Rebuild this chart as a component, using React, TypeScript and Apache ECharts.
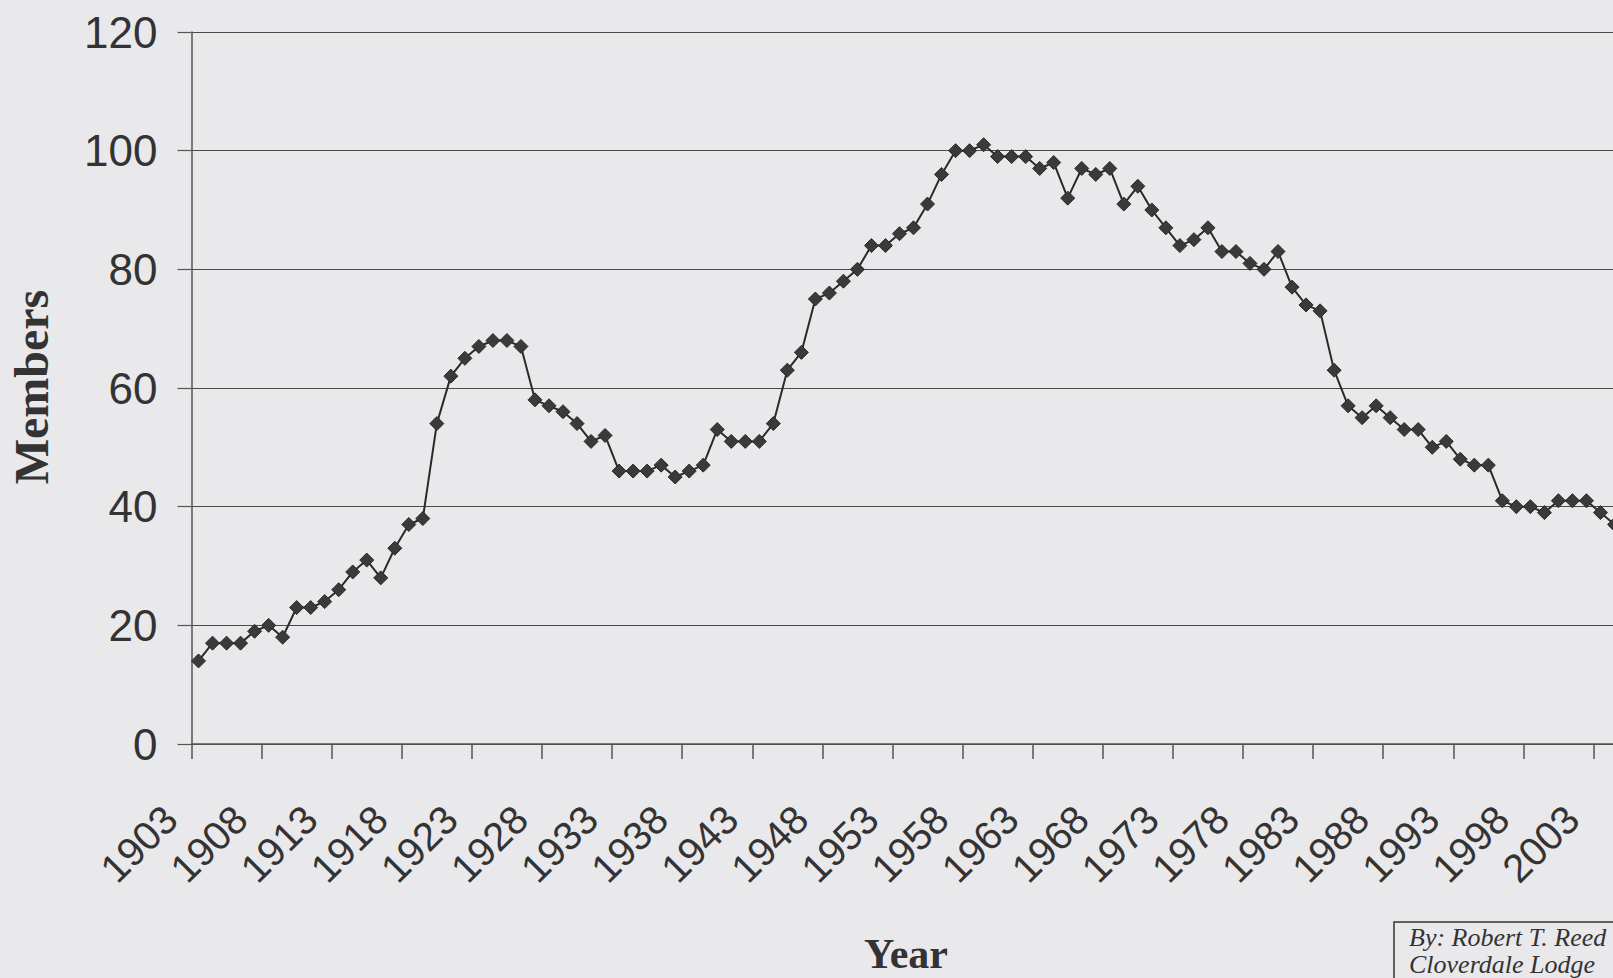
import React, { useEffect, useRef } from "react";
import * as echarts from "echarts";

const years: string[] = [
  "1903", "1904", "1905", "1906", "1907", "1908", "1909", "1910", "1911", "1912",
  "1913", "1914", "1915", "1916", "1917", "1918", "1919", "1920", "1921", "1922",
  "1923", "1924", "1925", "1926", "1927", "1928", "1929", "1930", "1931", "1932",
  "1933", "1934", "1935", "1936", "1937", "1938", "1939", "1940", "1941", "1942",
  "1943", "1944", "1945", "1946", "1947", "1948", "1949", "1950", "1951", "1952",
  "1953", "1954", "1955", "1956", "1957", "1958", "1959", "1960", "1961", "1962",
  "1963", "1964", "1965", "1966", "1967", "1968", "1969", "1970", "1971", "1972",
  "1973", "1974", "1975", "1976", "1977", "1978", "1979", "1980", "1981", "1982",
  "1983", "1984", "1985", "1986", "1987", "1988", "1989", "1990", "1991", "1992",
  "1993", "1994", "1995", "1996", "1997", "1998", "1999", "2000", "2001", "2002",
  "2003", "2004",
];

const members: number[] = [
  14, 17, 17, 17, 19, 20, 18, 23, 23, 24,
  26, 29, 31, 28, 33, 37, 38, 54, 62, 65,
  67, 68, 68, 67, 58, 57, 56, 54, 51, 52,
  46, 46, 46, 47, 45, 46, 47, 53, 51, 51,
  51, 54, 63, 66, 75, 76, 78, 80, 84, 84,
  86, 87, 91, 96, 100, 100, 101, 99, 99, 99,
  97, 98, 92, 97, 96, 97, 91, 94, 90, 87,
  84, 85, 87, 83, 83, 81, 80, 83, 77, 74,
  73, 63, 57, 55, 57, 55, 53, 53, 50, 51,
  48, 47, 47, 41, 40, 40, 39, 41, 41, 41,
  39, 37,
];

const yTicks = { min: 0, max: 120, interval: 20 };

const xTitle = "Year";
const yTitle = "Members";
const creditLines = ["By: Robert T. Reed", "Cloverdale Lodge"];

export default function App() {
  const ref = useRef<HTMLDivElement>(null);

  useEffect(() => {
    if (!ref.current) return;
    const chart = echarts.init(ref.current, undefined, { renderer: "svg" });
    const ink = "#333333";
    chart.setOption({
      animation: false,
      backgroundColor: "#e9e8eb",
      grid: {
        left: 191.5,
        top: 32,
        width: 1430,
        height: 712,
        containLabel: false,
        outerBoundsMode: "none",
      },
      xAxis: {
        type: "category",
        data: years,
        boundaryGap: true,
        axisLine: { show: true, lineStyle: { color: "#555", width: 1.5 } },
        axisTick: {
          show: true,
          interval: 4,
          length: 15,
          lineStyle: { color: "#555", width: 1.5 },
        },
        axisLabel: {
          interval: 4,
          rotate: 45,
          fontSize: 40,
          fontFamily: "Liberation Sans",
          color: ink,
          margin: 40,
          padding: [0, 40, 0, 0],
        },
        splitLine: { show: false },
      },
      yAxis: {
        type: "value",
        min: yTicks.min,
        max: yTicks.max,
        interval: yTicks.interval,
        axisLine: { show: true, lineStyle: { color: "#555", width: 1.5 } },
        axisTick: {
          show: true,
          length: 14,
          lineStyle: { color: "#555", width: 1.2 },
        },
        axisLabel: {
          fontSize: 44,
          fontFamily: "Liberation Sans",
          color: ink,
          margin: 34,
        },
        splitLine: { show: true, lineStyle: { color: "#4a4a4a", width: 1.2 } },
      },
      series: [
        {
          type: "line",
          data: members,
          symbol: "diamond",
          symbolSize: 14,
          showSymbol: true,
          showAllSymbol: true,
          lineStyle: { color: "#2a2a2a", width: 2 },
          itemStyle: { color: "#3a3a3a", borderColor: "#2a2a2a", borderWidth: 1 },
          clip: false,
        },
      ],
      graphic: [
        {
          type: "text",
          x: 31,
          y: 387,
          rotation: Math.PI / 2,
          style: {
            text: yTitle,
            font: "bold 48px 'Liberation Serif'",
            fill: ink,
            textAlign: "center",
            textVerticalAlign: "middle",
          },
        },
        {
          type: "text",
          x: 906,
          y: 954,
          style: {
            text: xTitle,
            font: "bold 42px 'Liberation Serif'",
            fill: ink,
            textAlign: "center",
            textVerticalAlign: "middle",
          },
        },
        {
          type: "rect",
          shape: { x: 1394, y: 922, width: 300, height: 100 },
          style: { fill: "transparent", stroke: "#333", lineWidth: 1.5 },
        },
        {
          type: "text",
          x: 1409,
          y: 924,
          style: {
            text: creditLines.join("\n"),
            font: "italic 26px 'Liberation Serif'",
            lineHeight: 27,
            fill: ink,
            textAlign: "left",
            textVerticalAlign: "top",
          },
        },
      ],
    });
    return () => chart.dispose();
  }, []);

  return (
    <div
      ref={ref}
      style={{ position: "fixed", left: 0, top: 0, width: 1613, height: 978 }}
    />
  );
}
